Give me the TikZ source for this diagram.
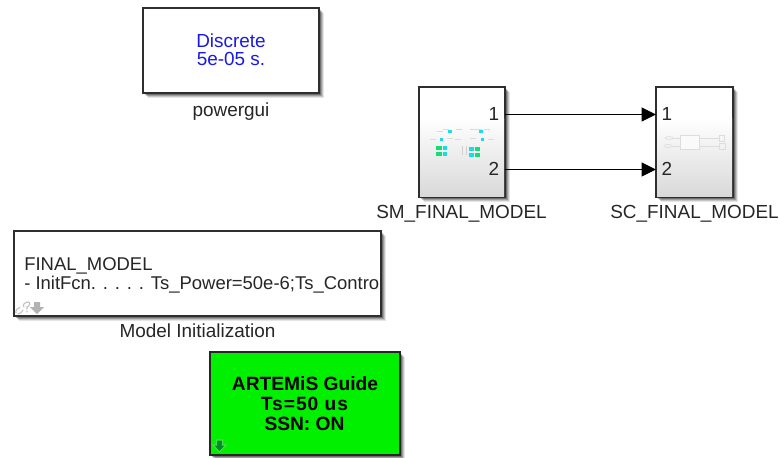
\documentclass[tikz,border=0pt]{standalone}
\usepackage{fontspec}
\setmainfont{Liberation Sans}
\usetikzlibrary{arrows.meta,calc}
\definecolor{txt}{HTML}{262626}
\definecolor{gui}{HTML}{1A1AE6}
\definecolor{grn}{HTML}{00F000}
\definecolor{edge}{HTML}{2E2E2E}
\definecolor{teal}{HTML}{19DDE6}
\definecolor{mint}{HTML}{14DC78}
\definecolor{icon}{HTML}{DDDDDD}
\newcommand{\softshadow}[4]{%
  \foreach \dd/\oo in {4.5/0.10,3.5/0.14,2.5/0.20,1.5/0.28}{
    \fill[black,opacity=\oo] ({#1+\dd},{#2+\dd}) rectangle ({#3+\dd},{#4+\dd});
  }}
\tikzset{
  x=0.75pt,y=-0.75pt,
  blockbox/.style={draw=edge,line width=1.4pt,fill=white,inner sep=0pt,outer sep=0pt,anchor=north west},
  lbl/.style={font=\fontsize{14.2}{16.6}\selectfont,text=txt,inner sep=0pt,anchor=base,align=center},
  boldlbl/.style={lbl,text=black,font=\bfseries\fontsize{14.4}{17}\selectfont},
  portlbl/.style={font=\fontsize{14.2}{16}\selectfont,text=txt,inner sep=0pt,anchor=center},
  wire/.style={draw=black,line width=0.75pt,-{Triangle[length=10.8pt,width=10.5pt]}},
  faint/.style={draw=icon,line width=0.5pt}
}
\begin{document}
\begin{tikzpicture}
\useasboundingbox (0,0) rectangle (781,457);
\fill[white] (0,0) rectangle (781,457);

% shadows
\softshadow{143}{8}{319}{93}
\softshadow{419}{87}{505}{197}
\softshadow{656}{87}{733}{197}
\softshadow{14}{231}{381}{316}
\softshadow{210}{352}{400}{455}

% powergui
\node[blockbox,minimum width=132pt,minimum height=63.75pt] (gui) at (143,8) {};
\node[lbl,text=gui] (guitext) at (231,47) {Discrete};
\node[lbl,text=gui] (guitext2) at (231,65) {5e-05 s.};
\node[lbl] (guilabel) at (231,116) {powergui};

% SM block
\node[blockbox,minimum width=64.5pt,minimum height=82.5pt] (sm) at (419,87) {};
\shade[top color=white,bottom color=white!85!black] (420,118) rectangle (504,196);

% SM icon
\foreach \a/\b in {437/131,443/129,456/129,470/129,476/129,484/129,430/139,447/138,455/139,470/138,488/139}{
  \fill[black!14] (\a,\b) rectangle +(6,0.8);
}
\foreach \a/\b in {450/131.7,481/131.7,441.7/139.3,482.7/139.3}{\fill[teal] (\a-1.7,\b-1.7) rectangle +(3.4,3.4);}
\foreach \a/\b/\w/\c in {436/146/5.7/mint,442.7/146/4/teal,436/151.7/5.7/mint,442.7/151.7/4/teal,469.3/147.3/4.4/teal,474.5/147.3/5.7/mint,469.3/152.7/4.4/teal,474.5/152.7/5.7/mint}{
  \fill[\c] (\a,\b) rectangle +(\w,4);
}
\foreach \a in {462,466}{\fill[black!18] (\a,146) rectangle +(1,9);}

% SC block
\node[blockbox,minimum width=57.75pt,minimum height=82.5pt] (sc) at (656,87) {};
\shade[top color=white,bottom color=white!85!black] (657,118) rectangle (732,196);

% SC icon
\draw[faint,fill=white!98!black] (680,135) rectangle (699,149);
\draw[faint] (673,138) -- (680,138);
\draw[faint] (672,146) -- (680,146);
\draw[faint] (669,138) ellipse (4 and 1.4);
\draw[faint] (668,146) ellipse (3.5 and 1.6);
\draw[faint] (699,138) -- (719,138) (699,146) -- (719,146);
\draw[faint] (719,135) rectangle (724,141);
\draw[faint] (719,143) rectangle (725,149);

% port labels
\node[portlbl] (smp1) at (494,114) {1};
\node[portlbl] (smp2) at (494,169) {2};
\node[portlbl] (scp1) at (667,114) {1};
\node[portlbl] (scp2) at (667,169) {2};

% connectors
\coordinate (smo1) at ($(sm.north east)+(0,27.5)$);
\coordinate (smo2) at ($(sm.north east)+(0,82.5)$);
\coordinate (sci1) at ($(sc.north west)+(0,27.5)$);
\coordinate (sci2) at ($(sc.north west)+(0,82.5)$);
\draw[wire] (smo1) -- (sci1);
\draw[wire] (smo2) -- (sci2);

\node[lbl] (smlabel) at (461.5,218) {SM\_FINAL\_MODEL};
\node[lbl] (sclabel) at (694.5,218) {SC\_FINAL\_MODEL};

% Model initialization
\node[blockbox,minimum width=275.25pt,minimum height=63.75pt] (init) at (14,231) {};
\node[lbl,anchor=base west,font=\fontsize{13.85}{16}\selectfont] (inittext1) at (24,270) {FINAL\_MODEL};
\node[lbl,anchor=base west,font=\fontsize{13.85}{16}\selectfont] (inittext2) at (24,289) {- InitFcn. . . . . Ts\_Power=50e-6;Ts\_Contro};
\node[lbl] (initlabel) at (197.5,337) {Model Initialization};
% link + arrow badges
\draw[black!25,line width=0.8pt,line cap=round] (16,313) .. controls (15,310) and (18,308) .. (20,307.5) (18,314) .. controls (20,314) and (22,312) .. (23,310);
\draw[black!25,line width=0.8pt,line cap=round] (24,307) .. controls (22,305) and (25,302) .. (28,302) .. controls (31,302) and (30,306) .. (27,307) -- (27,309) (27,311) -- (27,312);
\fill[black!30] (34,302) -- (40,302) -- (40,307) -- (44,307) -- (37,314) -- (30,307) -- (34,307) -- cycle;

% ARTEMiS
\node[blockbox,fill=grn,minimum width=142.5pt,minimum height=77.25pt,draw=black!85] (art) at (210,352) {};
\node[boldlbl] (arttext1) at (305,390) {ARTEMiS Guide};
\node[boldlbl] (arttext2) at (304.5,410) {\addfontfeature{LetterSpace=5}Ts=50 us};
\node[boldlbl] (arttext3) at (304.5,430) {SSN: ON};
\fill[green!65!black!85!blue,draw=green!80!black!70,line width=0.8pt] (216.5,440) -- (222.5,440) -- (222.5,445) -- (226,445) -- (219.5,452) -- (213,445) -- (216.5,445) -- cycle;
\end{tikzpicture}
\end{document}
